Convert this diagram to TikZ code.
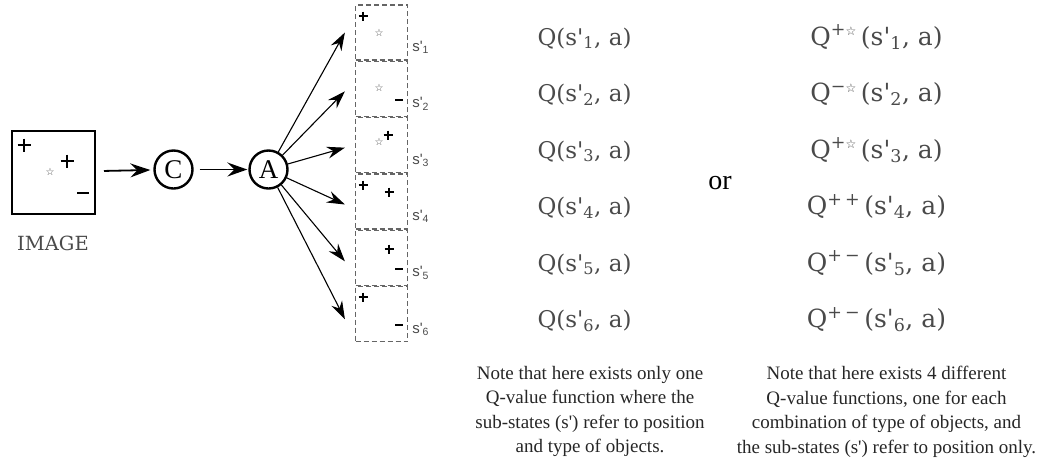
\documentclass[tikz,border=0pt]{standalone}
\usepackage{fontspec}
\setmainfont{Liberation Serif}
\setsansfont{Liberation Sans}
\newfontfamily\qfont{DejaVu Serif}
\newfontfamily\symfont{DejaVu Sans}
\usepackage{xcolor}
\usetikzlibrary{arrows.meta,calc,positioning}
\definecolor{inkgray}{HTML}{4A4A4A}
\definecolor{dashgray}{HTML}{656565}
\newcommand{\subs}[1]{s\textquotesingle\textsubscript{#1}}
\newcommand{\wstar}{{\symfont\fontsize{10}{10}\selectfont ☆}}
\newcommand{\supstar}{{\symfont\fontsize{12}{12}\selectfont ☆}}

\begin{document}
\begin{tikzpicture}[x=1pt,y=-1pt,every node/.style={font=\fontsize{19}{24.5}\selectfont},
  state/.style={circle,draw,line width=2.4pt,minimum size=38pt,inner sep=0pt,font=\fontsize{27}{27}\selectfont},
  subbox/.style={draw=dashgray,dash pattern=on 5pt off 3pt,line width=1.2pt,minimum width=52pt,minimum height=55pt,inner sep=0pt},
  flow/.style={-{Stealth[length=20pt,width=14pt,inset=7pt]},line width=1.8pt},
  fan/.style={-{Stealth[length=18pt,width=12pt,inset=6pt]},line width=1.1pt},
  qval/.style={anchor=base,text=inkgray,font=\qfont\fontsize{23}{23}\selectfont},
  note/.style={align=center,anchor=north,inner sep=0pt,text=black!85},
  smallstar/.style={text=inkgray,inner sep=0pt},
  bigplus/.pic={\draw[line width=2pt] (-6.5,0)--(6.5,0) (0,-6.5)--(0,6.5);},
  plus/.pic={\draw[line width=1.6pt] (-4.5,0)--(4.5,0) (0,-4.5)--(0,4.5);},
  minus/.pic={\draw[line width=1.2pt] (-4,0)--(4,0);}]
  \useasboundingbox (0,0) rectangle (1043,459);
  % input image
  \node[draw,line width=2pt,minimum size=83pt,inner sep=0pt] (img) at (53.5,172){};
  \pic at (24,145){bigplus}; \pic at (67,161){bigplus};
  \node[smallstar] (istar) at (50,172){\wstar};
  \draw[line width=1.6pt] (77,193)--(89,193);
  \node[text=inkgray,font=\qfont\fontsize{19.5}{19.5}\selectfont] (imglabel) at (53,243){IMAGE};
  % C -> A
  \node[state] (C) at (173.5,169.5){C};
  \node[state] (A) at (268.5,169.5){A};
  \draw[flow,shorten <=8pt,shorten >=3pt] (img) -- (C);
  \draw[flow,shorten <=6pt,shorten >=1pt] (C) -- (A);
  % sub-states
  \foreach \i in {1,...,6}{
    \node[subbox] (b\i) at (381.5,{32.5+56.33*(\i-1)}){};
    \node[anchor=west,inner sep=0pt,text=inkgray,font=\sffamily\fontsize{15}{15}\selectfont] (s\i) at ([xshift=4pt,yshift=13pt]b\i.south east){\subs{\i}};
  }
  \foreach \i/\dy in {1/0,2/-2.5,3/-2.5,4/-3,5/-3.5,6/-5}
    \draw[fan] (A) -- ([xshift=-10pt,yshift=\dy pt]b\i.west);
  \pic at (363,16){plus}; \node[smallstar] (st1) at (379,33){\wstar};
  \node[smallstar] (st2) at (379,88){\wstar}; \pic at (399,100){minus};
  \node[smallstar] (st3) at (379,142){\wstar}; \pic at (388,135){plus};
  \pic at (363,185){plus}; \pic at (389,192){plus};
  \pic at (389,249){plus}; \pic at (399,269){minus};
  \pic at (363,297){plus}; \pic at (399,325){minus};
  % Q-values
  \foreach \i in {1,...,6}
    \node[qval] (q\i) at (584.5,{45+56.5*(\i-1)}){Q(\subs{\i}, a)};
  \foreach \i/\tag in {1/{+\supstar},2/{−\supstar},3/{+\supstar},4/{+\,+},5/{+\,−},6/{+\,−}}
    \node[qval,font=\qfont\fontsize{25}{25}\selectfont] (r\i) at (876.5,{45+56.5*(\i-1)}){Q\textsuperscript{\tag}\,(\subs{\i}, a)};
  \node[font=\fontsize{28}{28}\selectfont] (or) at (720,183){or};
  % notes
  \node[note] (noteL) at (590,366){Note that here exists only one\\Q-value function where the\\sub-states (s\textquotesingle) refer to position\\and type of objects.};
  \node[note] (noteR) at (886.5,366){Note that here exists 4 different\\Q-value functions, one for each\\combination of type of objects, and\\the sub-states (s\textquotesingle) refer to position only.};
\end{tikzpicture}
\end{document}
